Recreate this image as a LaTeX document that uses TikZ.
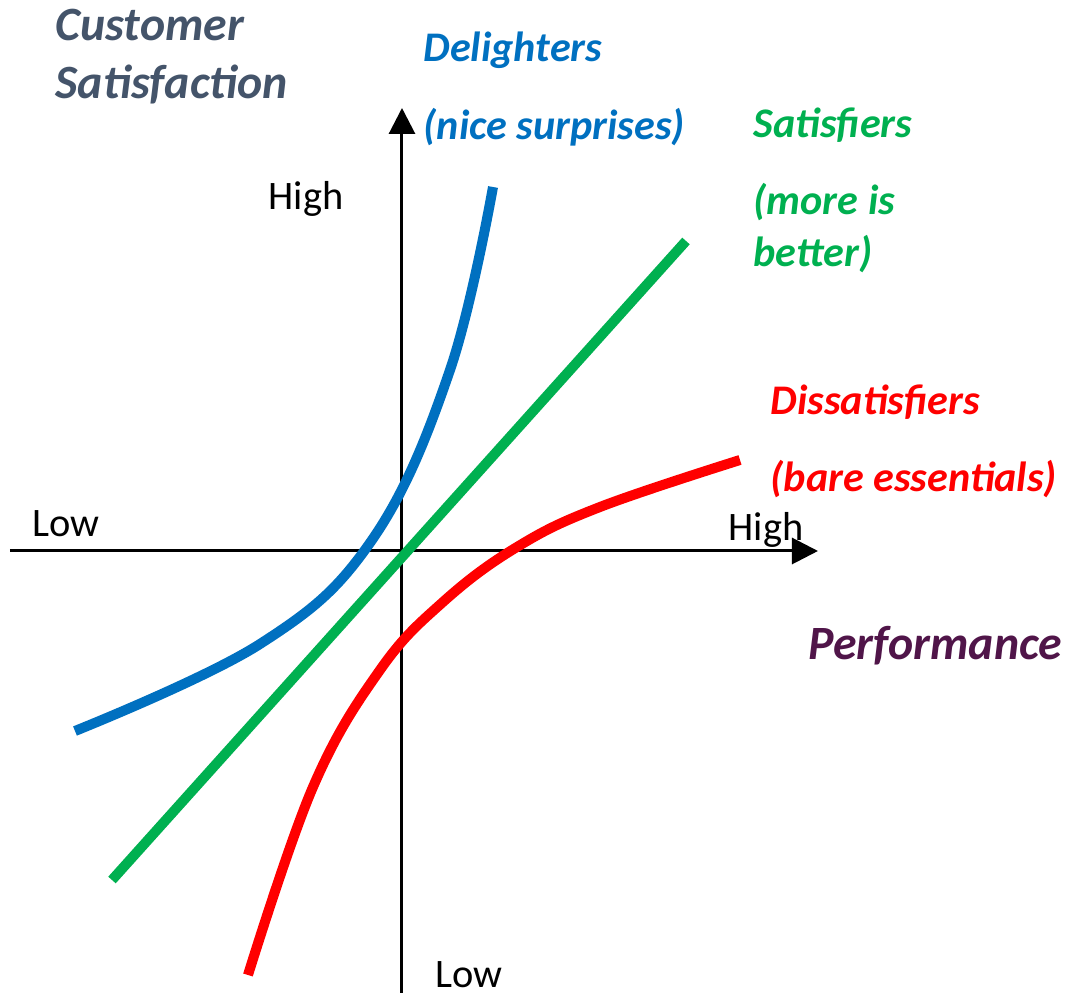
\documentclass[tikz,border=0pt]{standalone}
\usepackage{fontspec}
\setmainfont{Carlito}
\usetikzlibrary{arrows.meta}

\definecolor{delightblue}{HTML}{0070C0}
\definecolor{satisgreen}{HTML}{00B050}
\definecolor{dissred}{HTML}{FF0000}
\definecolor{titleslate}{HTML}{44546A}
\definecolor{perfpurple}{HTML}{501549}

\begin{document}
\begin{tikzpicture}[
			axis/.style={line width=0.03cm, -{Triangle[length=0.26cm, width=0.26cm]}},
			curve/.style={line width=0.1cm},
			axislabel/.style={anchor=base west, inner sep=0, font=\fontsize{11.5}{14}\selectfont},
			kind/.style={anchor=base west, inner sep=0, font=\fontsize{12}{14.5}\selectfont\bfseries\itshape},
			heading/.style={anchor=base west, inner sep=0, font=\fontsize{13.6}{16}\selectfont\bfseries\itshape}]
			
			\useasboundingbox (-4.02,-4.42) rectangle (6.65,5.51);
			
			% Axes
			\coordinate (xmin) at (-3.92,0);
			\coordinate (xmax) at (4.16,0);
			\coordinate (ymin) at (0,-4.42);
			\coordinate (ymax) at (0,4.43);
			\draw[axis] (xmin) -- (xmax);
			\draw[axis] (ymin) -- (ymax);
			
			\node[axislabel] (yhigh) at (-1.34,3.41) {High};
			\node[axislabel] (ylow) at (0.33,-4.37) {Low};
			\node[axislabel] (xlow) at (-3.70,0.14) {Low};
			\node[axislabel] (xhigh) at (3.26,0.10) {High};
			
			% Titles
			\node[heading, text=titleslate] (cust) at (-3.47,5.10) {Customer};
			\node[heading, text=titleslate] (sat) at (-3.47,4.52) {Satisfaction};
			\node[heading, text=perfpurple] (perf) at (4.06,-1.09) {Performance};
			
			% Delighters
			\draw[curve, delightblue] plot[smooth, tension=0.65] coordinates {
				(-3.27,-1.80) (-1.42,-0.93) (-0.30,0.11) (0.48,1.81) (0.91,3.64)};
			\node[kind, text=delightblue] (del1) at (0.21,4.89) {Delighters};
			\node[kind, text=delightblue] (del2) at (0.21,4.11) {(nice surprises)};
			
			% Satisfiers
			\draw[curve, satisgreen] (-2.90,-3.29) -- (2.84,3.10);
			\node[kind, text=satisgreen] (sat1) at (3.51,4.13) {Satisfiers};
			\node[kind, text=satisgreen] (sat2) at (3.51,3.36) {(more is};
			\node[kind, text=satisgreen] (sat3) at (3.51,2.84) {better)};
			
			% Dissatisfiers
			\draw[curve, dissred] plot[smooth, tension=0.65] coordinates {
				(-1.54,-4.24) (-0.89,-2.36) (-0.22,-1.19) (0.41,-0.51)
				(1.15,0.04) (1.98,0.44) (3.38,0.91)};
			\node[kind, text=dissred] (dis1) at (3.68,1.36) {Dissatisfiers};
			\node[kind, text=dissred] (dis2) at (3.68,0.59) {(bare essentials)};
		\end{tikzpicture}
\end{document}
